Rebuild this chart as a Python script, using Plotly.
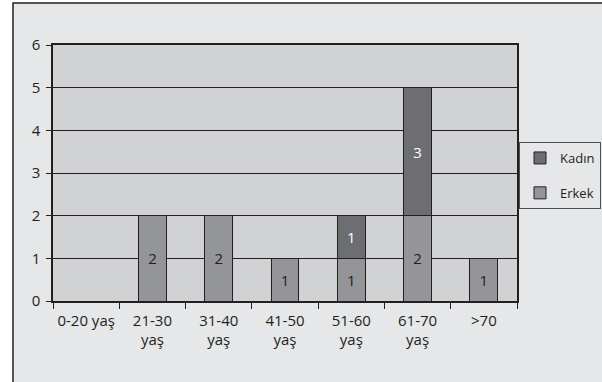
import plotly.graph_objects as go

categories = ["0-20 yaş", "21-30<br>yaş", "31-40<br>yaş", "41-50<br>yaş", "51-60<br>yaş", "61-70<br>yaş", ">70"]
erkek = [0, 2, 2, 1, 1, 2, 1]
kadin = [0, 0, 0, 0, 1, 3, 0]
y_ticks = [0, 1, 2, 3, 4, 5, 6]

FONT = "Open Sans"
TXT = "#231f20"
FS = 15

fig = go.Figure()
fig.add_trace(go.Bar(
    x=categories, y=erkek, name="Erkek", legendgroup="e", legendrank=2,
    marker=dict(color="#939598", line=dict(color="#231f20", width=1)),
    text=[str(v) if v else "" for v in erkek], textposition="inside",
    insidetextanchor="middle", textangle=0,
    textfont=dict(family=FONT, size=FS, color=TXT),
))
fig.add_trace(go.Bar(
    x=categories, y=kadin, name="Kadın", legendgroup="k", legendrank=1,
    marker=dict(color="#6d6e71", line=dict(color="#231f20", width=1)),
    text=[str(v) if v else "" for v in kadin], textposition="inside",
    insidetextanchor="middle", textangle=0,
    textfont=dict(family=FONT, size=FS, color="white"),
))

fig.update_layout(
    width=602, height=382,
    margin=dict(l=53, r=85, t=45, b=81, autoexpand=False),
    barmode="stack", bargap=0.58,
    paper_bgcolor="white", plot_bgcolor="rgba(0,0,0,0)",
    font=dict(family=FONT, size=FS, color=TXT),
    showlegend=True,
    legend=dict(
        xref="container", yref="container",
        x=601 / 602, y=1 - 142 / 382, xanchor="right", yanchor="top",
        bgcolor="rgba(0,0,0,0)", bordercolor="#4d4d4f", borderwidth=1,
        font=dict(family=FONT, size=13, color=TXT),
        traceorder="grouped", tracegroupgap=15, itemwidth=30,
    ),
    shapes=[
        dict(type="rect", xref="paper", yref="paper",
             x0=-0.0862, x1=1.4, y0=-0.6, y1=1.164,
             fillcolor="#e6e7e9", line=dict(color="#231f20", width=1.5), layer="below"),
        dict(type="rect", xref="paper", yref="paper",
             x0=0, x1=1, y0=0, y1=1,
             fillcolor="#d1d2d4", line=dict(width=0), layer="below"),
    ],
)
fig.update_yaxes(
    range=[0, 6], tickvals=y_ticks, showgrid=True, gridcolor="#231f20", gridwidth=1,
    showline=True, linecolor="#231f20", linewidth=1.5, mirror=True,
    ticks="outside", ticklen=5, tickcolor="#231f20", zeroline=False,
    tickfont=dict(family=FONT, size=FS, color=TXT), ticklabelstandoff=3,
)
fig.update_xaxes(
    showgrid=False, showline=True, linecolor="#231f20", linewidth=1.5, mirror=True,
    ticks="outside", ticklen=6, tickcolor="#231f20", tickson="boundaries",
    tickfont=dict(family=FONT, size=FS, color=TXT), tickangle=0, ticklabelstandoff=5,
)

fig.write_html("out.html")
